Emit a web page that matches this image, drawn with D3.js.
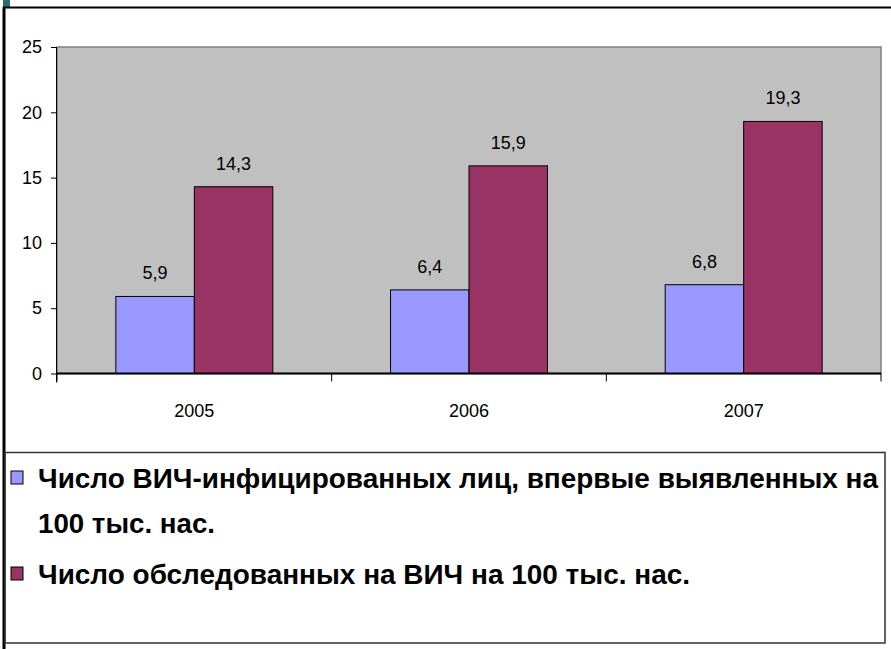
<!DOCTYPE html>
<html><head><meta charset="utf-8">
<script src="https://cdn.jsdelivr.net/npm/d3@7"></script>
<style>
html,body{margin:0;padding:0;background:#fff;}
svg{display:block;font-family:"Liberation Sans",Arial,sans-serif;}
</style></head>
<body>
<script>
const categories = ["2005", "2006", "2007"];
const seriesNames = [
  "Число ВИЧ-инфицированных лиц, впервые выявленных на 100 тыс. нас.",
  "Число обследованных на ВИЧ на 100 тыс. нас."
];
const detected = [5.9, 6.4, 6.8];
const examined = [14.3, 15.9, 19.3];
const yTicks = [0, 5, 10, 15, 20, 25];
const colors = ["#9999ff", "#993366"];

const W = 891, H = 649;
const svg = d3.select("body").append("svg").attr("width", W).attr("height", H);

// frame
svg.append("rect").attr("x", 3).attr("y", 0).attr("width", 7).attr("height", 7).attr("fill", "#2f6d72");
svg.append("line").attr("x1", 3).attr("x2", W).attr("y1", 7.5).attr("y2", 7.5).attr("stroke", "#000").attr("stroke-width", 2);
svg.append("line").attr("x1", 4).attr("x2", 4).attr("y1", 7).attr("y2", H).attr("stroke", "#000").attr("stroke-width", 3);

const plot = {left: 57, right: 881, top: 47, bottom: 373.5};
const x0 = d3.scaleBand().domain(categories).range([plot.left, plot.right]).padding(0);
const x1 = d3.scaleBand().domain([0, 1]).range([0, x0.bandwidth()]).paddingInner(0).paddingOuter(0.75);
const y = d3.scaleLinear().domain([0, 25]).range([plot.bottom, plot.top]);

// plot area
svg.append("rect").attr("x", plot.left).attr("y", plot.top).attr("width", plot.right - plot.left).attr("height", plot.bottom - plot.top)
  .attr("fill", "#c0c0c0").attr("stroke", "#808080").attr("stroke-width", 1.5);

const data = categories.map((c, i) => ({cat: c, vals: [detected[i], examined[i]]}));
const g = svg.append("g");
data.forEach(d => {
  d.vals.forEach((v, s) => {
    const bx = x0(d.cat) + x1(s);
    g.append("rect").attr("x", bx).attr("y", y(v)).attr("width", x1.bandwidth()).attr("height", y(0) - y(v))
      .attr("fill", colors[s]).attr("stroke", "#000").attr("stroke-width", 1);
    g.append("text").attr("x", bx + x1.bandwidth() / 2).attr("y", y(v) - 17).attr("text-anchor", "middle")
      .attr("font-size", 18).attr("fill", "#000").text(String(v).replace(".", ","));
  });
});

// y axis
const yAxis = d3.axisLeft(y).tickValues(yTicks).tickSize(6).tickPadding(9).tickFormat(d3.format("d"));
const ya = svg.append("g").attr("transform", `translate(${plot.left},0)`).call(yAxis);
ya.select(".domain").attr("stroke", "#000").attr("d", `M-0.5,${plot.top}V${plot.bottom + 9}`);
ya.selectAll(".tick line").attr("stroke", "#000");
ya.selectAll(".tick text").attr("font-size", 18).attr("font-family", "Liberation Sans, Arial, sans-serif").attr("fill", "#000");

// x axis
const xa = svg.append("g").attr("transform", `translate(0,${plot.bottom})`);
xa.append("line").attr("x1", plot.left).attr("x2", plot.right).attr("y1", 0).attr("y2", 0).attr("stroke", "#000").attr("stroke-width", 2);
const bounds = categories.map(c => x0(c)).concat([plot.right]);
xa.selectAll("line.tk").data(bounds).join("line").attr("class", "tk")
  .attr("x1", d => d).attr("x2", d => d).attr("y1", 0).attr("y2", 8).attr("stroke", "#000");
xa.selectAll("text").data(categories).join("text")
  .attr("x", d => x0(d) + x0.bandwidth() / 2).attr("y", 43).attr("text-anchor", "middle")
  .attr("font-size", 18).attr("fill", "#000").text(d => d);

// legend box
svg.append("rect").attr("x", 5).attr("y", 452.5).attr("width", 880).attr("height", 190.5)
  .attr("fill", "none").attr("stroke", "#333").attr("stroke-width", 1.5);

const legendRows = [
  {color: colors[0], lines: [["Число ВИЧ-инфицированных лиц, впервые выявленных на", 840], ["100 тыс. нас.", 177]], y: 488},
  {color: colors[1], lines: [[seriesNames[1], 652]], y: 584}
];
legendRows.forEach(r => {
  svg.append("rect").attr("x", 11).attr("y", r.y - 17).attr("width", 12).attr("height", 13)
    .attr("fill", r.color).attr("stroke", "#000").attr("stroke-width", 1);
  r.lines.forEach(([t, len], i) => {
    svg.append("text").attr("x", 38).attr("y", r.y + i * 45).attr("font-size", 28).attr("font-weight", "bold")
      .attr("textLength", len).attr("lengthAdjust", "spacingAndGlyphs")
      .attr("fill", "#000").text(t);
  });
});
</script>
</body></html>
